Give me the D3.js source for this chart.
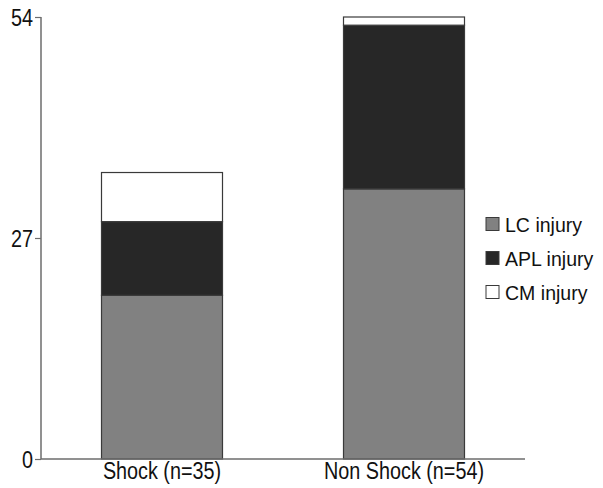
<!DOCTYPE html>
<html>
<head>
<meta charset="utf-8">
<script src="https://cdn.jsdelivr.net/npm/d3@7"></script>
<style>
  body { margin: 0; background: #fff; overflow: hidden; }
  svg text { font-family: "Liberation Sans", Arial, sans-serif; fill: #111; }
</style>
</head>
<body>
<svg class="chart"></svg>
<script>
var width = 603,
    height = 488;

// data
var groups = ["Shock (n=35)", "Non Shock (n=54)"];
var series = ["LC injury", "APL injury", "CM injury"];
var lcValues = [20, 33];
var aplValues = [9, 20];
var cmValues = [6, 1];
var yTicks = [0, 27, 54];

var colors = { "LC injury": "#818181", "APL injury": "#272727", "CM injury": "#ffffff" };

var rows = groups.map(function(g, i) {
  return { group: g, "LC injury": lcValues[i], "APL injury": aplValues[i], "CM injury": cmValues[i] };
});

var x = d3.scaleBand()
    .domain(groups)
    .range([41, 525])
    .paddingInner(0.5)
    .paddingOuter(0.25);

var y = d3.scaleLinear()
    .domain([0, 54])
    .range([459, 17]);

var chart = d3.select(".chart")
    .attr("width", width)
    .attr("height", height);

var stacked = d3.stack().keys(series)(rows);

var layer = chart.selectAll("g.layer")
    .data(stacked)
  .enter().append("g")
    .attr("class", "layer")
    .attr("fill", function(d) { return colors[d.key]; });

layer.selectAll("rect")
    .data(function(d) { return d; })
  .enter().append("rect")
    .attr("x", function(d) { return x(d.data.group); })
    .attr("width", x.bandwidth())
    .attr("y", function(d) { return y(d[1]); })
    .attr("height", function(d) { return y(d[0]) - y(d[1]); })
    .attr("stroke", "#3a3a3a")
    .attr("stroke-width", 1.2);

// y axis
var yAxis = chart.append("g")
    .attr("transform", "translate(41,0)")
    .call(d3.axisLeft(y).tickValues(yTicks).tickSize(6).tickPadding(2).tickFormat(d3.format("d")));
yAxis.select(".domain").attr("d", "M0," + y(54) + "V" + y(0)).attr("stroke", "#6d6d6d").attr("stroke-width", 1.5);
yAxis.selectAll(".tick line").attr("stroke", "#6d6d6d").attr("stroke-width", 1.2);
yAxis.selectAll(".tick text").attr("font-size", 23).attr("dy", "0.36em").attr("fill", "#111");

// x axis
var xAxis = chart.append("g")
    .attr("transform", "translate(0," + y(0) + ")")
    .call(d3.axisBottom(x).tickSize(0).tickPadding(4));
xAxis.select(".domain").attr("d", "M41,0H525").attr("stroke", "#6d6d6d").attr("stroke-width", 1.5);
xAxis.selectAll(".tick text").attr("font-size", 23).attr("dy", "0.71em").attr("fill", "#111");

// the original font is a condensed sans; squeeze the glyphs horizontally
chart.selectAll("text").each(function() {
  var w = this.getComputedTextLength();
  d3.select(this)
      .attr("textLength", w * 0.86)
      .attr("lengthAdjust", "spacingAndGlyphs");
});

// legend
var legend = chart.selectAll("g.legend")
    .data(series)
  .enter().append("g")
    .attr("class", "legend")
    .attr("transform", function(d, i) { return "translate(486," + (224 + i * 34) + ")"; });

legend.append("rect")
    .attr("x", 0)
    .attr("y", -6.5)
    .attr("width", 13)
    .attr("height", 13)
    .attr("fill", function(d) { return colors[d]; })
    .attr("stroke", "#3a3a3a")
    .attr("stroke-width", 1);

legend.append("text")
    .attr("x", 19)
    .attr("dy", "0.36em")
    .attr("font-size", 21)
    .text(function(d) { return d; })
    .each(function() {
      var w = this.getComputedTextLength();
      d3.select(this)
          .attr("textLength", w * 0.93)
          .attr("lengthAdjust", "spacingAndGlyphs");
    });
</script>
</body>
</html>
